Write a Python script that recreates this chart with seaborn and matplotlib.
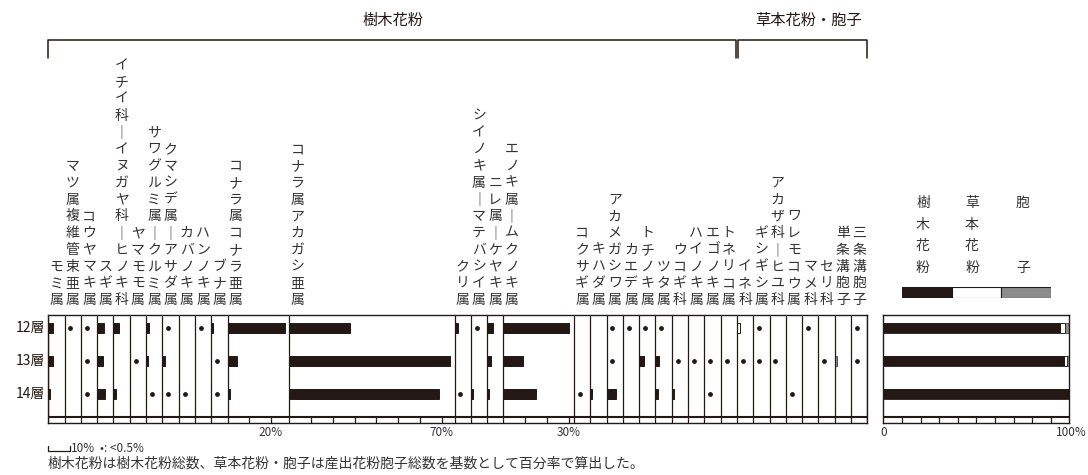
import matplotlib.pyplot as plt
import matplotlib.transforms as mtransforms
from matplotlib.lines import Line2D
import numpy as np
import pandas as pd
import seaborn as sns

# 分類群(左から)
taxa = ["モミ属", "マツ属複維管束亜属", "コウヤマキ属", "スギ属", "イチイ科－イヌガヤ科－ヒノキ科",
        "ヤマモモ属", "サワグルミ属－クルミ属", "クマシデ属－アサダ属", "カバノキ属", "ハンノキ属",
        "ブナ属", "コナラ属コナラ亜属", "コナラ属アカガシ亜属", "クリ属", "シイノキ属－マテバシイ属",
        "ニレ属－ケヤキ属", "エノキ属－ムクノキ属", "コクサギ属", "キハダ属", "アカメガシワ属",
        "カエデ属", "トチノキ属", "ツタ属", "ウコギ科", "ハイノキ属", "エゴノキ属", "トネリコ属",
        "イネ科", "ギシギシ属", "アカザ科－ヒユ科", "ワレモコウ属", "マメ科", "セリ科",
        "単条溝胞子", "三条溝胞子"]
group = ["樹木"] * 27 + ["草本"] * 6 + ["胞子"] * 2
layers = ["12層", "13層", "14層"]

# 出現率(%)  0.3 は <0.5% (点で表示)
pct_12 = [2, 0.3, 0.3, 3, 2.5, 0, 1.5, 0.3, 0, 0.3, 1, 26.5, 27.8, 1.5, 0.3, 2.6, 30.3, 0,
          0, 0.3, 0.3, 0.3, 0.3, 0, 0, 0, 0, 1.5, 0.3, 0, 0, 0.3, 0, 0, 0.3]
pct_13 = [2, 0, 0.3, 2.5, 0, 0.3, 1, 1, 0, 0, 0.3, 4.3, 73.9, 0, 0, 1.7, 8.8, 0,
          0, 0.3, 0, 2, 1.7, 0.3, 0.3, 0.3, 0.3, 0.3, 0.3, 0.3, 0, 0, 0.3, 1, 0.3]
pct_14 = [1, 0, 0.3, 3.4, 1, 0, 0.3, 0.3, 0.3, 0, 0.3, 1.2, 68.7, 0.3, 1, 1, 15, 0.3,
          1, 4.5, 0, 0, 1, 1, 0, 0.3, 0, 0, 0, 0, 0.3, 0, 0, 0, 0]

# 樹木花粉・草本花粉・胞子の構成比(%)
tree_total = [95.5, 97.5, 100]
herb_total = [2.0, 1.5, 0]
spore_total = [2.5, 1.0, 0]

# 列幅(%)
wide_cols = {"コナラ属コナラ亜属": 28.5, "コナラ属アカガシ亜属": 76, "エノキ属－ムクノキ属": 32.5}
narrow = 7.5
widths = np.array([wide_cols.get(t, narrow) for t in taxa])
lefts = np.concatenate([[0], np.cumsum(widths)[:-1]])

df = pd.DataFrame({
    "taxon": np.tile(taxa, 3),
    "group": np.tile(group, 3),
    "row": np.repeat([0, 1, 2], len(taxa)),
    "left": np.tile(lefts, 3),
    "pct": pct_12 + pct_13 + pct_14,
})
df["dot_x"] = df["left"] + 2.7

W, H = 1088, 475
sns.set_theme(style="white")
plt.rcParams['font.family'] = ['Noto Sans CJK JP', 'DejaVu Sans']
ink = '#231815'
gray = '#8c8c8c'

fig = plt.figure(figsize=(W / 100, H / 100), dpi=100)
pxt = mtransforms.Affine2D().scale(1 / W, -1 / H).translate(0, 1) + fig.transFigure


def box(x0, y0, x1, y1):
    return [x0 / W, 1 - y1 / H, (x1 - x0) / W, (y1 - y0) / H]


X0, X1, Y0, Y1 = 48.3, 867.3, 314.7, 422.7
total_w = widths.sum()
ppp = (X1 - X0) / total_w  # px per %
y_top, y_strip, y_bot = -0.405, 2.71, 2.88
bar_h = 0.29

# ---- 左: 分類群別の出現率 ----
ax = fig.add_axes(box(X0, Y0, X1, Y1))
colors = {"樹木": ink, "草本": "white", "胞子": gray}
edges = {"樹木": ink, "草本": ink, "胞子": "#555555"}
bars = df[df["pct"] >= 0.5]
for g, sub in bars.groupby("group"):
    ax.barh(sub["row"], sub["pct"], left=sub["left"], height=bar_h,
            color=colors[g], edgecolor=edges[g], linewidth=0.7)
dots = df[(df["pct"] > 0) & (df["pct"] < 0.5)]
sns.scatterplot(data=dots, x="dot_x", y="row", color=ink, s=12, linewidth=0,
                legend=False, ax=ax)

col_edges = np.concatenate([lefts, [total_w]])
ax.vlines(col_edges, y_top, y_bot, color=ink, lw=0.9)
ax.axhline(y_strip, color=ink, lw=1.5)
for t, l, w in zip(taxa, lefts, widths):
    if w > narrow:
        ks = np.arange(10, w, 10)
        ax.vlines(l + ks, y_strip, y_bot, color=ink, lw=0.9)
        fig.text((X0 + (l + ks[-1]) * ppp) / W, 1 - 432 / H, f"{int(ks[-1])}%",
                 ha="center", va="center", fontsize=8.5, color='#333333')

ax.set_xlim(0, total_w)
ax.set_ylim(y_bot, y_top)
ax.set_xticks([])
ax.set_yticks([])
ax.set_xlabel("")
ax.set_ylabel("")
for s in ax.spines.values():
    s.set_color(ink)
    s.set_linewidth(1.0)

for i, lay in enumerate(layers):
    fig.text(45 / W, 1 - (328 + i * 32.8) / H, lay, ha="right", va="center",
             fontsize=10, color=ink)

# 縦書きの分類群名(各列の左端に寄せる)
for t, l in zip(taxa, lefts):
    label = "\n".join(t.replace("－", "｜"))
    fig.text((X0 + (l + narrow / 2) * ppp) / W, 1 - 307 / H, label, ha="center",
             va="bottom", fontsize=10, color='#333333', linespacing=1.25)

# ---- 右: 樹木花粉・草本花粉・胞子の構成 ----
axr = fig.add_axes(box(883.3, Y0, 1069.3, Y1))
comp = pd.DataFrame({"layer": layers, "tree": tree_total, "herb": herb_total,
                     "spore": spore_total})
comp["all"] = comp["tree"] + comp["herb"] + comp["spore"]
comp["tree_herb"] = comp["tree"] + comp["herb"]
sns.barplot(data=comp, x="all", y="layer", orient="h", color=gray, saturation=1,
            width=bar_h, edgecolor="#555555", linewidth=0.6, ax=axr)
sns.barplot(data=comp, x="tree_herb", y="layer", orient="h", color="white", saturation=1,
            width=bar_h, edgecolor=ink, linewidth=0.6, ax=axr)
sns.barplot(data=comp, x="tree", y="layer", orient="h", color=ink, saturation=1,
            width=bar_h, linewidth=0, ax=axr)
axr.axhline(y_strip, color=ink, lw=1.5)
axr.vlines(np.arange(10, 100, 10), y_strip, y_bot, color=ink, lw=0.9)
axr.set_xlim(0, 100)
axr.set_ylim(y_bot, y_top)
axr.set_xticks([])
axr.set_yticks([])
axr.set_xlabel("")
axr.set_ylabel("")
for s in axr.spines.values():
    s.set_color(ink)
    s.set_linewidth(1.0)
fig.text(884 / W, 1 - 432 / H, "0", ha="center", va="center", fontsize=8.5, color='#333333')
fig.text(1071 / W, 1 - 432 / H, "100%", ha="center", va="center", fontsize=8.5,
         color='#333333')

# 凡例
for x, chars in [(923, "樹木花粉"), (972, "草本花粉"), (1023, "胞  子")]:
    for j, c in enumerate(chars):
        if c.strip():
            fig.text(x / W, 1 - (203 + j * 21.7) / H, c, ha="center", va="center",
                     fontsize=10, color='#333333')
axl = fig.add_axes(box(902, 287.3, 1051, 298.3))
axl.barh([0, 0, 0], [1, 1, 1], left=[0, 1, 2], height=1, color=[ink, "white", gray],
         edgecolor=ink, linewidth=0.8)
axl.set_xlim(0, 3)
axl.set_ylim(-0.5, 0.5)
axl.axis("off")

# 見出しと括弧
fig.text(393 / W, 1 - 20 / H, "樹木花粉", ha="center", va="center", fontsize=11, color=ink)
fig.text(808 / W, 1 - 20 / H, "草本花粉・胞子", ha="center", va="center", fontsize=11,
         color=ink)
x_split = X0 + lefts[27] * ppp
for xs in [(X0, X0, x_split - 1, x_split - 1), (x_split + 1, x_split + 1, X1, X1)]:
    fig.add_artist(Line2D(xs, [58, 40, 40, 58], transform=pxt, color=ink, lw=1.1))

# 脚注
sx = 48.3
fig.add_artist(Line2D([sx, sx, sx + 10 * ppp, sx + 10 * ppp], [446, 451, 451, 446],
                      transform=pxt, color=ink, lw=0.9))
fig.text(71 / W, 1 - 448 / H, "10%", ha="left", va="center", fontsize=8.5, color='#333333')
fig.text(100 / W, 1 - 448 / H, "•: <0.5%", ha="left", va="center", fontsize=8.5,
         color='#333333')
fig.text(48 / W, 1 - 464 / H,
         "樹木花粉は樹木花粉総数、草本花粉・胞子は産出花粉胞子総数を基数として百分率で算出した。",
         ha="left", va="center", fontsize=10, color='#333333')

plt.savefig("out.png", dpi=100)
